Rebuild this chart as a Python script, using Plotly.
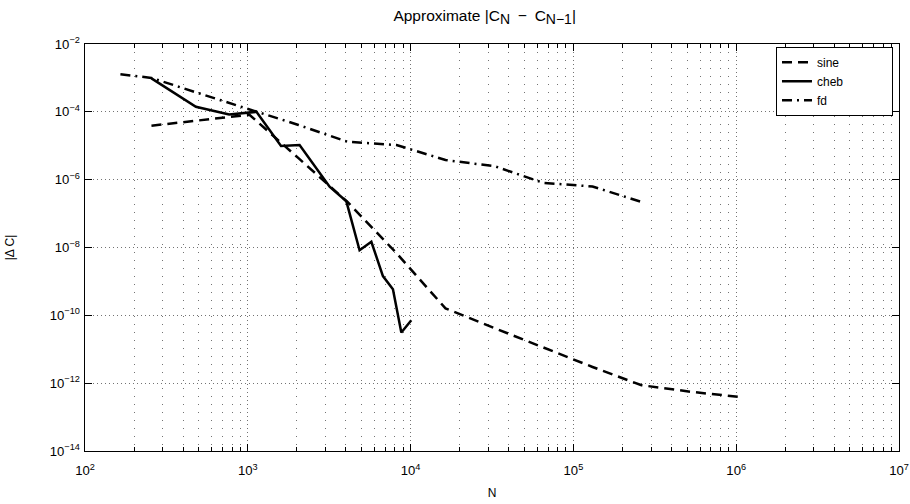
import plotly.graph_objects as go

# ---- data ----
sine_N = [256, 512, 1024, 2048, 4096, 8192, 16384, 32768, 65536, 131072, 262144, 524288, 1048576]
sine_dC = [3.9e-5, 5.6e-5, 8.2e-5, 4.3e-6, 2.2e-7, 6.8e-9, 1.6e-10, 4.2e-11, 1.1e-11, 3.0e-12, 8.7e-13, 5.6e-13, 3.9e-13]

cheb_N = [256, 480, 768, 1130, 1600, 2080, 3180, 4030, 4860, 5740, 6760, 7790, 8770, 10100]
cheb_dC = [9.7e-4, 1.41e-4, 8.4e-5, 1.0e-4, 9.8e-6, 1.05e-5, 6.2e-7, 2.3e-7, 8.3e-9, 1.48e-8, 1.44e-9, 5.9e-10, 3.1e-11, 7.2e-11]

fd_N = [165, 256, 512, 1024, 2048, 4096, 8192, 16384, 32768, 65536, 131072, 262144]
fd_dC = [1.28e-3, 1.0e-3, 3.4e-4, 1.17e-4, 4.1e-5, 1.31e-5, 1.05e-5, 3.8e-6, 2.5e-6, 8.0e-7, 6.3e-7, 2.2e-7]

series_names = ["sine", "cheb", "fd"]
title_text = ("Approximate |C<sub><span style=\"font-size:14px\">N</span></sub>\u2002"
              "−\u2002C<sub><span style=\"font-size:14px\">N−1</span></sub>|")
x_title = "N"
y_title = "|Δ C|"

FONT = "Liberation Sans, Arial, Helvetica, sans-serif"
PAD = "\u00a0" * 13  # MATLAB-style wide legend box

fig = go.Figure()
fig.add_trace(go.Scatter(x=sine_N, y=sine_dC, mode="lines", name=series_names[0] + PAD,
                         line=dict(color="black", width=2.5, dash="10px,6px")))
fig.add_trace(go.Scatter(x=cheb_N, y=cheb_dC, mode="lines", name=series_names[1] + PAD,
                         line=dict(color="black", width=2.5)))
fig.add_trace(go.Scatter(x=fd_N, y=fd_dC, mode="lines", name=series_names[2] + PAD,
                         line=dict(color="black", width=2.5, dash="10px,5px,2px,5px")))

grid_col = "rgba(0,0,0,0.55)"

fig.update_layout(
    width=910, height=504,
    margin=dict(l=85, r=11, t=44, b=53),
    paper_bgcolor="white", plot_bgcolor="white",
    font=dict(family=FONT, size=11, color="black"),
    title=dict(text=title_text, xref="paper", x=0.491, xanchor="center",
               yref="container", y=0.98, yanchor="top",
               font=dict(family=FONT, size=15.5, color="black")),
    showlegend=True,
    legend=dict(x=0.9926, y=0.993, xanchor="right", yanchor="top",
                bgcolor="white", bordercolor="black", borderwidth=1,
                font=dict(family=FONT, size=12, color="black"),
                tracegroupgap=0),
)

fig.update_xaxes(
    type="log", range=[2, 7], dtick=1,
    exponentformat="power",
    showline=True, linecolor="black", linewidth=1, mirror="ticks",
    ticks="inside", ticklen=7, tickcolor="black", ticklabelstandoff=8,
    showgrid=True, gridcolor=grid_col, gridwidth=1, griddash="1px,3px",
    zeroline=False, automargin=False, ticklabeloverflow="allow",
    tickfont=dict(family=FONT, size=10.5, color="black"),
    title=dict(text=x_title, font=dict(family=FONT, size=12, color="black"), standoff=11),
    minor=dict(dtick="D1", ticks="inside", ticklen=4, tickcolor="black",
               showgrid=True, gridcolor=grid_col, gridwidth=1, griddash="1px,7px"),
)
fig.update_yaxes(
    type="log", range=[-14, -2], dtick=2,
    exponentformat="power",
    showline=True, linecolor="black", linewidth=1, mirror="ticks",
    ticks="inside", ticklen=7, tickcolor="black", ticklabelstandoff=2,
    showgrid=True, gridcolor=grid_col, gridwidth=1, griddash="1px,3px",
    zeroline=False, automargin=False,
    tickfont=dict(family=FONT, size=10.5, color="black"),
    title=dict(text=y_title, font=dict(family=FONT, size=12, color="black"), standoff=32),
)

fig.write_html("out.html", config={"displayModeBar": False},
               post_script="document.body.style.margin='0px';")
